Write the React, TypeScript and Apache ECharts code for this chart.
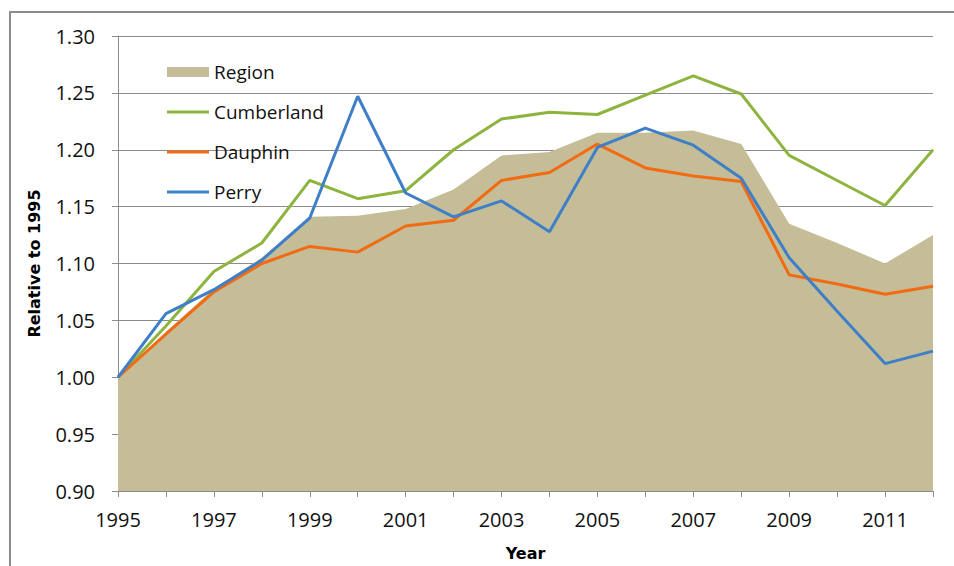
import React, { useEffect, useRef } from "react";
import * as echarts from "echarts";

const years = ["1995","1996","1997","1998","1999","2000","2001","2002","2003","2004","2005","2006","2007","2008","2009","2010","2011","2012"];
const region = [1.0, 1.04, 1.078, 1.105, 1.141, 1.142, 1.148, 1.165, 1.195, 1.198, 1.215, 1.215, 1.217, 1.205, 1.135, 1.118, 1.1, 1.125];
const cumberland = [1.0, 1.045, 1.093, 1.118, 1.173, 1.157, 1.164, 1.2, 1.227, 1.233, 1.231, 1.248, 1.265, 1.249, 1.195, 1.173, 1.151, 1.2];
const dauphin = [1.0, 1.038, 1.075, 1.1, 1.115, 1.11, 1.133, 1.138, 1.173, 1.18, 1.205, 1.184, 1.177, 1.172, 1.09, 1.082, 1.073, 1.08];
const perry = [1.0, 1.056, 1.077, 1.103, 1.14, 1.247, 1.162, 1.141, 1.155, 1.128, 1.202, 1.219, 1.204, 1.175, 1.105, 1.058, 1.012, 1.023];

const FONT = "'Open Sans', 'Noto Sans', sans-serif";
const GRAY = "#8c8c8c";

export default function App() {
  const ref = useRef<HTMLDivElement>(null);
  useEffect(() => {
    if (!ref.current) return;
    const chart = echarts.init(ref.current, undefined, { renderer: "svg" });
    const lineSeries = (name: string, data: number[], color: string) => ({
      name,
      type: "line",
      data,
      symbol: "none",
      showSymbol: false,
      lineStyle: { color, width: 3 },
      itemStyle: { color },
    });
    chart.setOption({
      animation: false,
      backgroundColor: "#ffffff",
      graphic: [
        {
          type: "rect",
          shape: { x: 10, y: 12, width: 1000, height: 700 },
          style: { fill: "none", stroke: GRAY, lineWidth: 2 },
          silent: true,
          z: -10,
        },
      ],
      grid: { left: 118, right: 21, top: 36, bottom: 75, outerBoundsMode: "none", containLabel: false },
      legend: {
        orient: "vertical",
        left: 162,
        top: 57,
        itemWidth: 42,
        itemHeight: 10,
        itemGap: 20,
        symbolKeepAspect: true,
        textStyle: { fontFamily: FONT, fontSize: 19, color: "#111", lineHeight: 20 },
        data: [
          { name: "Region", icon: "path://M0,0H42V10H0Z" },
          { name: "Cumberland", icon: "path://M0,0H42V3H0Z" },
          { name: "Dauphin", icon: "path://M0,0H42V3H0Z" },
          { name: "Perry", icon: "path://M0,0H42V3H0Z" },
        ],
      },
      xAxis: {
        type: "category",
        data: years,
        boundaryGap: false,
        name: "Year",
        nameLocation: "middle",
        nameGap: 54,
        nameTextStyle: { fontFamily: "'DejaVu Sans', sans-serif", fontWeight: "bold", fontSize: 16, color: "#000" },
        axisLine: { show: true, lineStyle: { color: GRAY, width: 1 } },
        axisTick: { show: true, interval: 0, length: 6, lineStyle: { color: GRAY } },
        axisLabel: { interval: 1, margin: 18, fontFamily: FONT, fontSize: 20, color: "#111" },
        splitLine: { show: false },
      },
      yAxis: {
        type: "value",
        min: 0.9,
        max: 1.3,
        interval: 0.05,
        name: "Relative to 1995",
        nameLocation: "middle",
        nameGap: 76,
        nameTextStyle: { fontFamily: "'DejaVu Sans', sans-serif", fontWeight: "bold", fontSize: 16, color: "#000" },
        axisLine: { show: true, lineStyle: { color: GRAY, width: 1 } },
        axisTick: { show: true, length: 6, lineStyle: { color: GRAY } },
        axisLabel: {
          margin: 23,
          fontFamily: FONT,
          fontSize: 20,
          color: "#111",
          formatter: (v: number) => v.toFixed(2),
        },
        splitLine: { show: true, lineStyle: { color: GRAY, width: 1 } },
      },
      series: [
        {
          name: "Region",
          type: "line",
          data: region,
          symbol: "none",
          showSymbol: false,
          lineStyle: { width: 0, color: "#C4BD97" },
          itemStyle: { color: "#C4BD97" },
          areaStyle: { color: "#C4BD97", opacity: 1 },
        },
        lineSeries("Cumberland", cumberland, "#8DB43E"),
        lineSeries("Dauphin", dauphin, "#F26B12"),
        lineSeries("Perry", perry, "#3F7FC8"),
      ],
    });
    return () => chart.dispose();
  }, []);
  return (
    <div
      ref={ref}
      style={{ position: "fixed", left: 0, top: 0, width: 954, height: 566, background: "#fff" }}
    />
  );
}
